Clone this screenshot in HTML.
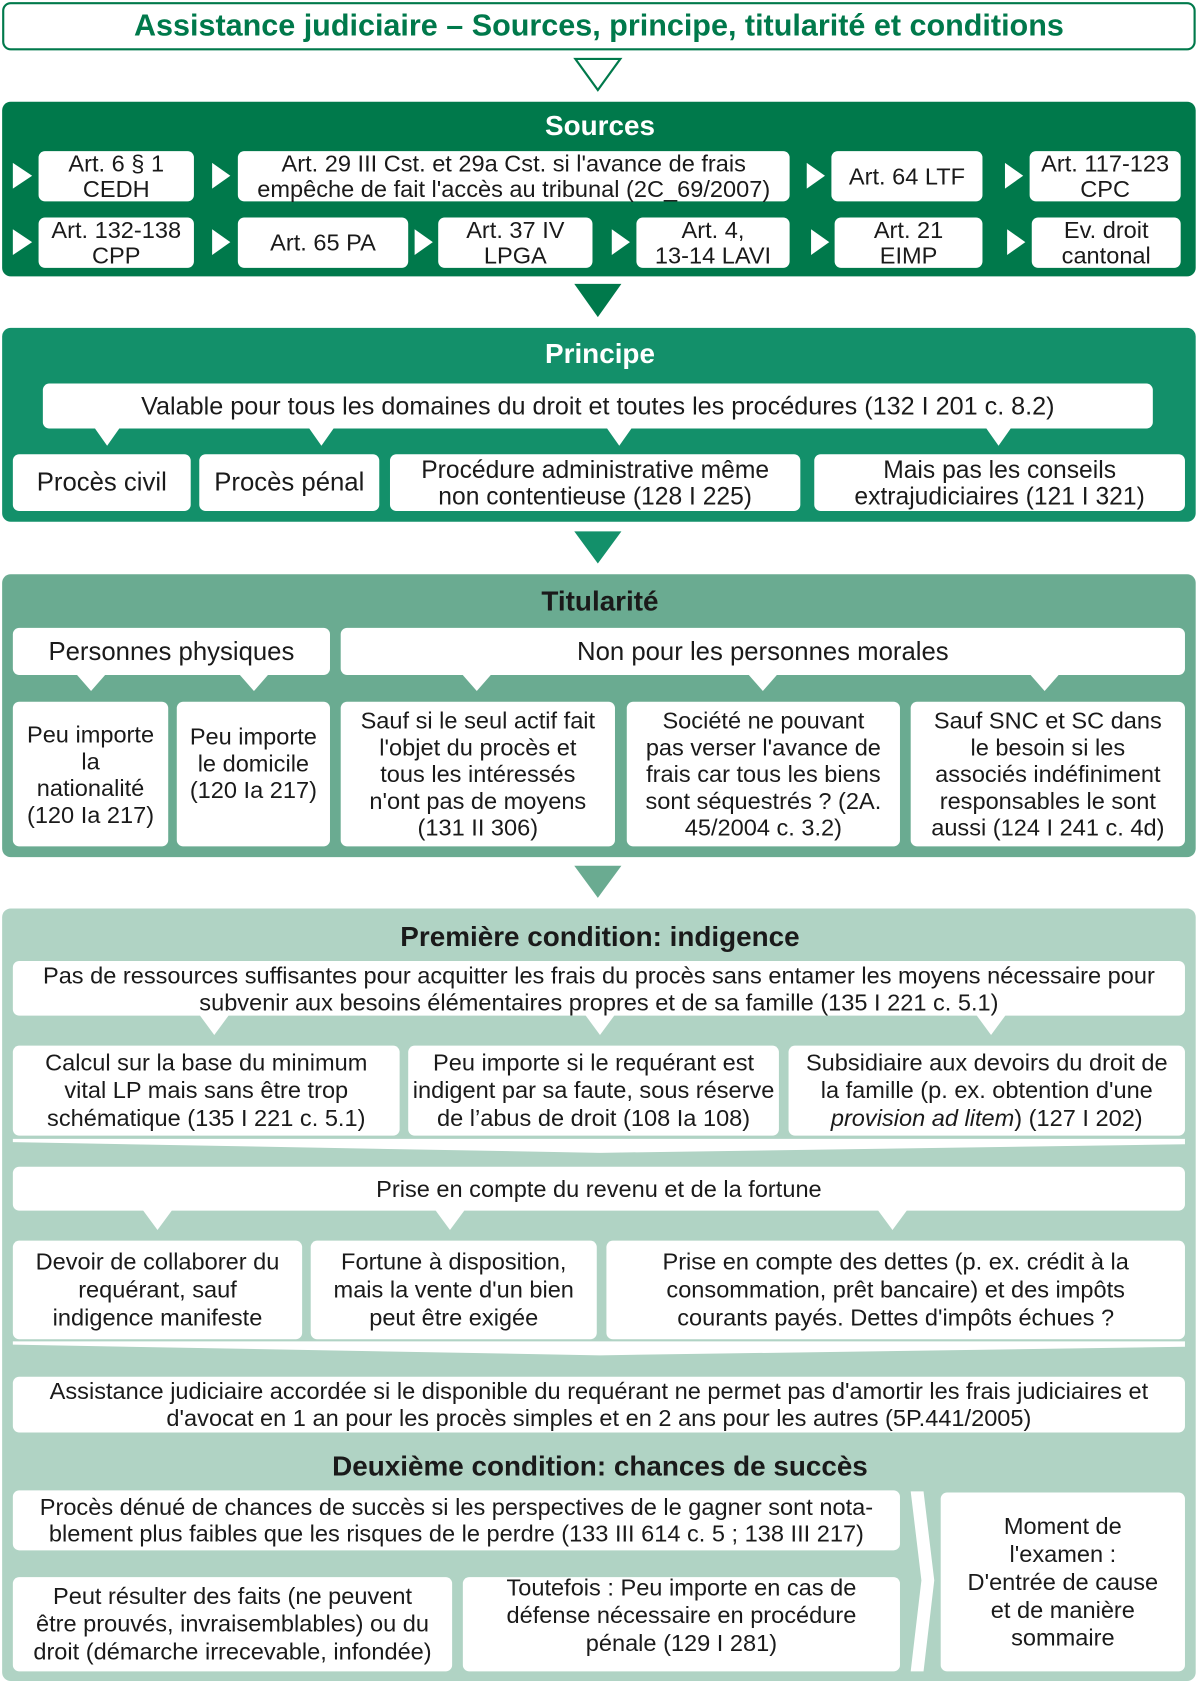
<!DOCTYPE html>
<html><head><meta charset="utf-8"><style>
*{margin:0;padding:0;box-sizing:border-box}
html,body{width:1200px;height:1681px;overflow:hidden;background:#fff}
#w{position:absolute;left:0;top:0;width:1120px;height:1569px;transform:scale(1.0714);transform-origin:0 0;font-family:"Liberation Sans",Arial,sans-serif;color:#1a1a1a}
.p{position:absolute;left:2px;width:1114px;border-radius:8px}
.b{position:absolute;background:#fff;border-radius:6px;display:flex;align-items:center;justify-content:center;text-align:center;font-size:22px;line-height:25px;white-space:nowrap}
.t{position:absolute;left:0;width:1120px;text-align:center;font-weight:bold;font-size:26px}
svg{position:absolute;left:0;top:0}
</style></head><body><div id="w">
<div style="position:absolute;left:2px;top:2px;width:1114px;height:45px;border:2px solid #00794b;border-radius:8px;display:flex;align-items:center;justify-content:center;color:#00794b;font-weight:bold;font-size:28.5px">Assistance judiciaire – Sources, principe, titularité et conditions</div>
<div class="p" style="top:95px;height:163px;background:#00794b"></div>
<div class="p" style="top:306px;height:181px;background:#13906a"></div>
<div class="p" style="top:536px;height:264px;background:#6aab91"></div>
<div class="p" style="top:848px;height:721px;background:#b0d3c4"></div>
<svg width="1120" height="1569">
<polygon points="537,55 579,55 558,84" fill="#fff" stroke="#00794b" stroke-width="2"/>
<polygon points="536,265 580,265 558,296" fill="#00794b"/>
<polygon points="536,496 580,496 558,526" fill="#13906a"/>
<polygon points="536,808 580,808 558,838" fill="#6aab91"/>
<g fill="#fff">
<polygon points="12,152 30,164 12,176"/><polygon points="198,152 215,164 198,176"/><polygon points="753,152 770,164 753,176"/><polygon points="938,152 955,164 938,176"/>
<polygon points="12,214 30,226 12,238"/><polygon points="198,214 215,226 198,238"/><polygon points="387,214 404,226 387,238"/><polygon points="571,214 588,226 571,238"/><polygon points="757,214 774,226 757,238"/><polygon points="940,214 957,226 940,238"/>
<polygon points="88,399 112,399 100,416"/><polygon points="288,399 312,399 300,416"/><polygon points="566,399 590,399 578,416"/><polygon points="920,399 944,399 932,416"/>
<polygon points="71,629 99,629 85,645"/><polygon points="223,629 251,629 237,645"/><polygon points="431,629 459,629 445,645"/><polygon points="698,629 726,629 712,645"/><polygon points="961,629 989,629 975,645"/>
<polygon points="186,947 214,947 200,966"/><polygon points="546,947 574,947 560,966"/><polygon points="911,947 939,947 925,966"/>
<polygon points="12,1063 1106,1063 1106,1068 560,1076 12,1066"/>
<polygon points="133,1129 161,1129 147,1148"/><polygon points="406,1129 434,1129 420,1148"/><polygon points="819,1129 847,1129 833,1148"/>
<polygon points="12,1252 1106,1252 1106,1257 560,1265 12,1255"/>
<polygon points="850,1392 862,1392 872,1475 862,1560 850,1560 860,1475"/>
</g>
</svg>
<div class="t" style="top:102px;color:#fff">Sources</div>
<div class="b" style="left:36px;top:141px;width:145px;height:47px;line-height:24px">Art. 6 § 1<br>CEDH</div>
<div class="b" style="left:222px;top:141px;width:515px;height:47px;line-height:24px">Art. 29 III Cst. et 29a Cst. si l'avance de frais<br>empêche de fait l'accès au tribunal (2C_69/2007)</div>
<div class="b" style="left:776px;top:141px;width:141px;height:47px">Art. 64 LTF</div>
<div class="b" style="left:961px;top:141px;width:141px;height:47px;line-height:24px">Art. 117-123<br>CPC</div>
<div class="b" style="left:36px;top:203px;width:145px;height:47px;line-height:24px">Art. 132-138<br>CPP</div>
<div class="b" style="left:222px;top:203px;width:159px;height:47px">Art. 65 PA</div>
<div class="b" style="left:409px;top:203px;width:144px;height:47px;line-height:24px">Art. 37 IV<br>LPGA</div>
<div class="b" style="left:594px;top:203px;width:143px;height:47px;line-height:24px">Art. 4,<br>13-14 LAVI</div>
<div class="b" style="left:779px;top:203px;width:138px;height:47px;line-height:24px">Art. 21<br>EIMP</div>
<div class="b" style="left:963px;top:203px;width:139px;height:47px;line-height:24px">Ev. droit<br>cantonal</div>
<div class="t" style="top:315px;color:#fff">Principe</div>
<div class="b" style="left:40px;top:358px;width:1036px;height:42px;font-size:23.5px">Valable pour tous les domaines du droit et toutes les procédures (132 I 201 c. 8.2)</div>
<div class="b" style="left:12px;top:424px;width:166px;height:53px;font-size:24px">Procès civil</div>
<div class="b" style="left:186px;top:424px;width:168px;height:53px;font-size:24px">Procès pénal</div>
<div class="b" style="left:364px;top:424px;width:383px;height:53px;font-size:23px">Procédure administrative même<br>non contentieuse (128 I 225)</div>
<div class="b" style="left:760px;top:424px;width:346px;height:53px;font-size:23px">Mais pas les conseils<br>extrajudiciaires (121 I 321)</div>
<div class="t" style="top:546px">Titularité</div>
<div class="b" style="left:12px;top:586px;width:296px;height:44px;font-size:24px">Personnes physiques</div>
<div class="b" style="left:318px;top:586px;width:788px;height:44px;font-size:24px">Non pour les personnes morales</div>
<div class="b" style="left:12px;top:655px;width:145px;height:135px">Peu importe<br>la<br>nationalité<br>(120 Ia 217)</div>
<div class="b" style="left:165px;top:655px;width:143px;height:135px;padding-bottom:20px">Peu importe<br>le domicile<br>(120 Ia 217)</div>
<div class="b" style="left:318px;top:655px;width:256px;height:135px">Sauf si le seul actif fait<br>l'objet du procès et<br>tous les intéressés<br>n'ont pas de moyens<br>(131 II 306)</div>
<div class="b" style="left:585px;top:655px;width:255px;height:135px">Société ne pouvant<br>pas verser l'avance de<br>frais car tous les biens<br>sont séquestrés ? (2A.<br>45/2004 c. 3.2)</div>
<div class="b" style="left:850px;top:655px;width:256px;height:135px">Sauf SNC et SC dans<br>le besoin si les<br>associés indéfiniment<br>responsables le sont<br>aussi (124 I 241 c. 4d)</div>
<div class="t" style="top:859px">Première condition: indigence</div>
<div class="b" style="left:12px;top:897px;width:1094px;height:51px">Pas de ressources suffisantes pour acquitter les frais du procès sans entamer les moyens nécessaire pour<br>subvenir aux besoins élémentaires propres et de sa famille (135 I 221 c. 5.1)</div>
<div class="b" style="left:12px;top:976px;width:361px;height:84px;line-height:26px">Calcul sur la base du minimum<br>vital LP mais sans être trop<br>schématique (135 I 221 c. 5.1)</div>
<div class="b" style="left:381px;top:976px;width:346px;height:84px;line-height:26px">Peu importe si le requérant est<br>indigent par sa faute, sous réserve<br>de l’abus de droit (108 Ia 108)</div>
<div class="b" style="left:736px;top:976px;width:370px;height:84px;line-height:26px"><span>Subsidiaire aux devoirs du droit de<br>la famille (p. ex. obtention d'une<br><i>provision ad litem</i>) (127 I 202)</span></div>
<div class="b" style="left:12px;top:1089px;width:1094px;height:41px">Prise en compte du revenu et de la fortune</div>
<div class="b" style="left:12px;top:1158px;width:270px;height:92px;line-height:26px">Devoir de collaborer du<br>requérant, sauf<br>indigence manifeste</div>
<div class="b" style="left:290px;top:1158px;width:267px;height:92px;line-height:26px">Fortune à disposition,<br>mais la vente d'un bien<br>peut être exigée</div>
<div class="b" style="left:566px;top:1158px;width:540px;height:92px;line-height:26px">Prise en compte des dettes (p. ex. crédit à la<br>consommation, prêt bancaire) et des impôts<br>courants payés. Dettes d'impôts échues ?</div>
<div class="b" style="left:12px;top:1285px;width:1094px;height:52px">Assistance judiciaire accordée si le disponible du requérant ne permet pas d'amortir les frais judiciaires et<br>d'avocat en 1 an pour les procès simples et en 2 ans pour les autres (5P.441/2005)</div>
<div class="t" style="top:1353px">Deuxième condition: chances de succès</div>
<div class="b" style="left:12px;top:1391px;width:828px;height:56px">Procès dénué de chances de succès si les perspectives de le gagner sont nota-<br>blement plus faibles que les risques de le perdre (133 III 614 c. 5 ; 138 III 217)</div>
<div class="b" style="left:12px;top:1472px;width:410px;height:88px;line-height:26px">Peut résulter des faits (ne peuvent<br>être prouvés, invraisemblables) ou du<br>droit (démarche irrecevable, infondée)</div>
<div class="b" style="left:432px;top:1472px;width:408px;height:88px;line-height:26px;padding-bottom:16px">Toutefois : Peu importe en cas de<br>défense nécessaire en procédure<br>pénale (129 I 281)</div>
<div class="b" style="left:878px;top:1393px;width:228px;height:167px;line-height:26px">Moment de<br>l'examen :<br>D'entrée de cause<br>et de manière<br>sommaire</div>
</div></body></html>
